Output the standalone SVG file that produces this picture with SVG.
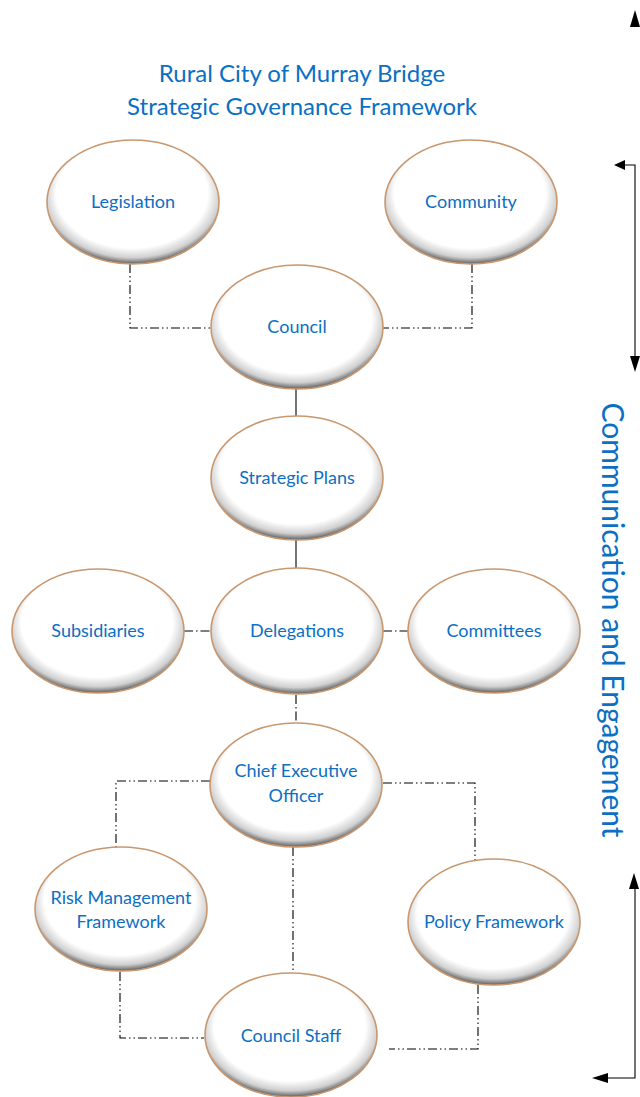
<svg xmlns="http://www.w3.org/2000/svg" width="640" height="1097" viewBox="0 0 640 1097">
<style>
.t{font-family:Lato,"Liberation Sans",sans-serif;fill:#0B6FC4;text-anchor:middle}
.n{font-size:18px}
.ti{font-size:24px}
.e{fill:url(#g);stroke:#C9976E;stroke-width:1.6}
.dd{fill:none;stroke:#000;stroke-width:1.1;stroke-dasharray:9 3 1.5 3 1.5 3}
.dt{fill:none;stroke:#000;stroke-width:1.1;stroke-dasharray:9 3 1.5 3}
.s{fill:none;stroke:#000;stroke-width:1.1}
</style>
<defs>
<radialGradient id="g" cx="0.5" cy="0.45" r="0.55" fx="0.47" fy="0.36">
<stop offset="0" stop-color="#fff"/>
<stop offset="0.8" stop-color="#fff"/>
<stop offset="0.92" stop-color="#d0d0d0"/>
<stop offset="1" stop-color="#5e5e5e"/>
</radialGradient>
</defs>
<rect width="640" height="1097" fill="#fff"/>
<text class="t ti" x="302" y="82">Rural City of Murray Bridge</text>
<text class="t ti" x="302" y="115">Strategic Governance Framework</text>

<g id="connectors">
<polyline class="dd" points="130,264 130,328 211,328"/>
<polyline class="dd" points="472,264 472,328 383,328"/>
<line class="s" x1="296" y1="389" x2="296" y2="416"/>
<line class="s" x1="296" y1="540" x2="296" y2="569"/>
<line class="dt" x1="184" y1="631" x2="211" y2="631"/>
<line class="dt" x1="383" y1="631" x2="409" y2="631"/>
<line class="dt" x1="296" y1="695" x2="296" y2="723"/>
<polyline class="dd" points="210,781 116,781 116,847"/>
<polyline class="dd" points="383,783 475,783 475,860"/>
<line class="dd" x1="293" y1="847" x2="293" y2="973"/>
<polyline class="dd" points="120,972 120,1038 204,1038"/>
<polyline class="dd" points="478,985 478,1049 389,1049"/>
<polyline class="s" points="623,165 635,165 635,358"/>
<polygon points="614,165 625,160 625,170" fill="#000"/>
<polygon points="635,372 630,356 640,356" fill="#000"/>
<polygon points="635,10 630,27 640,27" fill="#000"/>
<polyline class="s" points="635,886 635,1078 604,1078"/>
<polygon points="634,873 629,889 639,889" fill="#000"/>
<polygon points="592,1078 608,1073 608,1083" fill="#000"/>
</g>

<g id="legislation"><ellipse class="e" cx="133" cy="202" rx="86" ry="62"/><text class="t n" x="133" y="208">Legislation</text></g>
<g id="community"><ellipse class="e" cx="471" cy="202" rx="86" ry="62"/><text class="t n" x="471" y="208">Community</text></g>
<g id="council"><ellipse class="e" cx="297" cy="327" rx="86" ry="62"/><text class="t n" x="297" y="333">Council</text></g>
<g id="strategic-plans"><ellipse class="e" cx="297" cy="478" rx="86" ry="62"/><text class="t n" x="297" y="484">Strategic Plans</text></g>
<g id="subsidiaries"><ellipse class="e" cx="98" cy="631" rx="86" ry="62"/><text class="t n" x="98" y="637">Subsidiaries</text></g>
<g id="delegations"><ellipse class="e" cx="297" cy="631" rx="86" ry="63"/><text class="t n" x="297" y="637">Delegations</text></g>
<g id="committees"><ellipse class="e" cx="494" cy="631" rx="86" ry="62"/><text class="t n" x="494" y="637">Committees</text></g>
<g id="ceo"><ellipse class="e" cx="296" cy="785" rx="86" ry="62"/><text class="t n" x="296" y="777">Chief Executive</text><text class="t n" x="296" y="802">Officer</text></g>
<g id="risk"><ellipse class="e" cx="121" cy="909" rx="86" ry="62"/><text class="t n" x="121" y="904">Risk Management</text><text class="t n" x="121" y="928">Framework</text></g>
<g id="policy"><ellipse class="e" cx="494" cy="922" rx="86" ry="63"/><text class="t n" x="494" y="928">Policy Framework</text></g>
<g id="council-staff"><ellipse class="e" cx="291" cy="1035" rx="86" ry="62"/><text class="t n" x="291" y="1042">Council Staff</text></g>

<text class="t" font-size="30" transform="translate(602,620) rotate(90)">Communication and Engagement</text>
</svg>
